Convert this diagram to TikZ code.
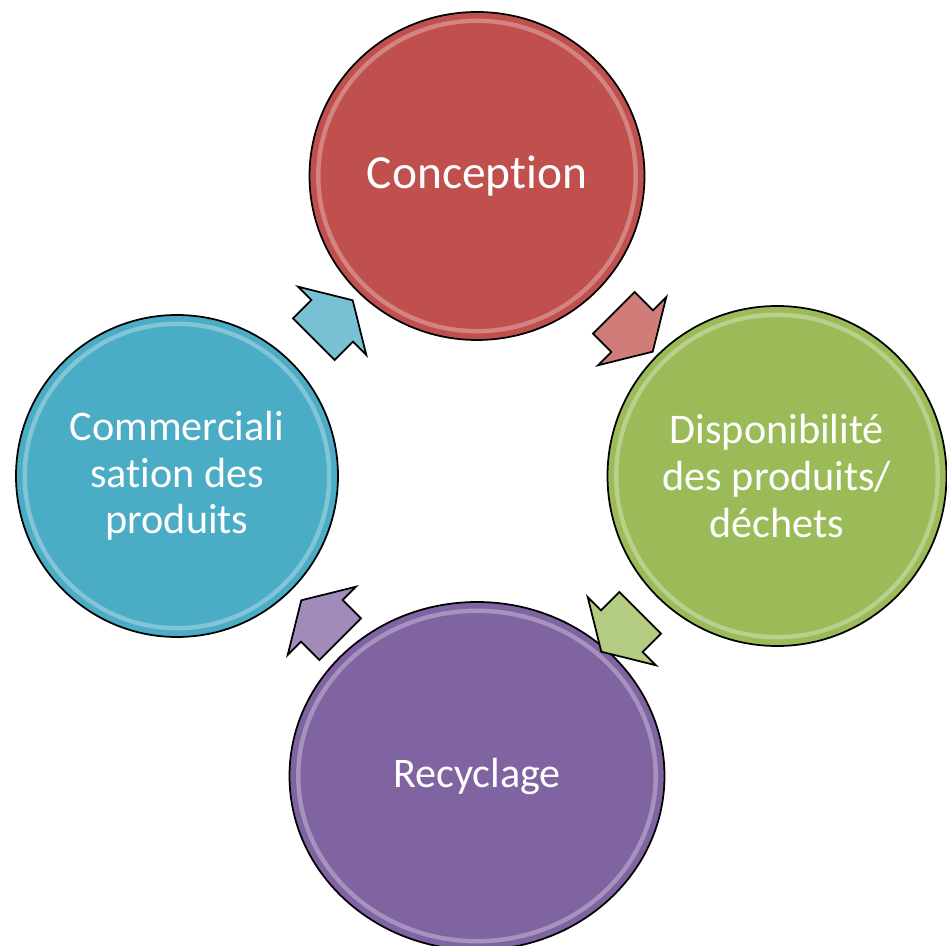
\documentclass[tikz,border=0pt]{standalone}
\usepackage{fontspec}
\setmainfont{Carlito}[Ligatures=NoCommon]
\usetikzlibrary{positioning}
\usetikzlibrary{shapes.geometric, shapes.arrows}
\usetikzlibrary{calc}

\definecolor{stageRed}{HTML}{C0504D}
\definecolor{stageGreen}{HTML}{9BBB59}
\definecolor{stagePurple}{HTML}{8064A2}
\definecolor{stageBlue}{HTML}{4BACC6}

\begin{document}
\begin{tikzpicture}[node distance =6cm and 6cm, on grid, semithick ,
stage/.style ={ellipse, draw=black, line width=1pt, text=white, inner sep=0pt, align=center,
  font=\fontsize{24}{26.5}\selectfont,
  path picture={\draw[white, opacity=.3, line width=2.5pt] let \p1=(path picture bounding box.north east), \p2=(path picture bounding box.center) in (\p2) ellipse [x radius=\x1-\x2-5pt, y radius=\y1-\y2-5pt];}},
cyclearrow/.style ={single arrow, draw=black, line width=1pt, inner xsep=0pt, inner ysep=0.57cm, minimum height=1.1cm, minimum width=1.9cm,
  single arrow head extend=0.38cm, single arrow tip angle=118}]
\useasboundingbox (-9.54,3.52) rectangle (9.40,-15.40);
\node[stage, fill=stageRed, minimum width=6.7cm, minimum height=6.56cm, font=\fontsize{27}{30}\selectfont] (Conc) {Conception};
\node[stage, fill=stageGreen, minimum width=6.78cm, minimum height=6.8cm] (Dispo) [below right =of Conc] {Disponibilité\\des produits/\\déchets};
\node[stage, fill=stageBlue, minimum width=6.44cm, minimum height=6.44cm] (Comm) [below left =of Conc] {Commerciali\\sation des\\produits};
\node[stage, fill=stagePurple, minimum width=7.5cm, minimum height=6.96cm] (Recy) [below right =of Comm] {Recyclage};
% arrows of the cycle
\node[cyclearrow, fill=stageRed!75!white, rotate=-45] (arrConc) at ($(Conc)!0.5!(Dispo)$) {};
\node[cyclearrow, fill=stageGreen!75!white, rotate=-135] (arrDispo) at ($(Dispo)!0.5!(Recy)$) {};
\node[cyclearrow, fill=stagePurple!75!white, rotate=135] (arrRecy) at ($(Recy)!0.5!(Comm)$) {};
\node[cyclearrow, fill=stageBlue!75!white, rotate=45] (arrComm) at ($(Comm)!0.5!(Conc)$) {};
\end{tikzpicture}
\end{document}
